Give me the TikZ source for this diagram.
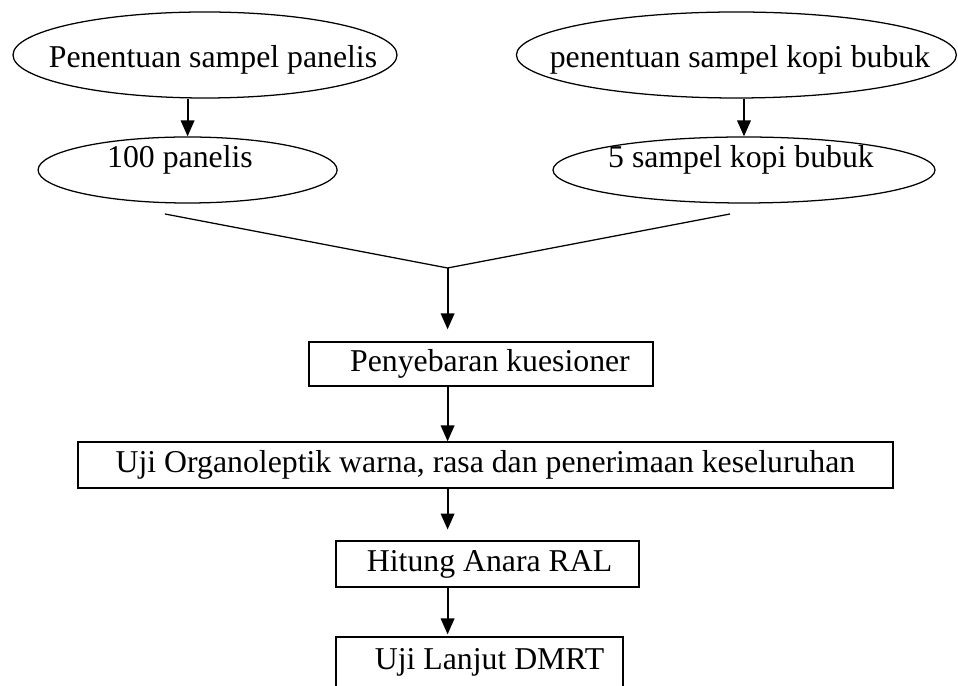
\documentclass[tikz,border=0pt]{standalone}
\usepackage{fontspec}
\setmainfont{Liberation Serif}
\usetikzlibrary{arrows.meta, shapes.geometric}

\begin{document}
\begin{tikzpicture}[
    oval/.style={draw, ellipse, line width=0.9pt, inner sep=0pt},
    box/.style={draw, rectangle, line width=0.9pt, inner sep=0pt, minimum height=1.15cm},
    lbl/.style={inner sep=0pt},
    >={Triangle[length=0.4cm, width=0.34cm]},
    font=\fontsize{22.6}{27}\selectfont
]
  \clip (0,0) rectangle (23.95,17.15);

  % Sampling (left and right)
  \node[oval, minimum width=9.6cm, minimum height=2.15cm] (tentuPanelis) at (5.125, 15.775) {};
  \node[lbl] (tentuPanelisT) at (5.325, 15.65) {Penentuan sampel panelis};
  \node[oval, minimum width=7.475cm, minimum height=1.65cm] (panelis) at (4.69, 12.9) {};
  \node[lbl] (panelisT) at (4.5, 13.15) {100 panelis};

  \node[oval, minimum width=11.0cm, minimum height=2.15cm] (tentuKopi) at (18.41, 15.775) {};
  \node[lbl] (tentuKopiT) at (18.5, 15.65) {penentuan sampel kopi bubuk};
  \node[oval, minimum width=9.55cm, minimum height=1.65cm] (kopi) at (18.6, 12.9) {};
  \node[lbl] (kopiT) at (18.525, 13.15) {5 sampel kopi bubuk};

  \draw[->, line width=1.3pt] (tentuPanelis.south -| panelis.north) -- (panelis.north);
  \draw[->, line width=1.3pt] (tentuKopi.south -| kopi.north) -- (kopi.north);

  % Merging lines
  \coordinate (mL) at (4.125, 11.8);
  \coordinate (join) at (11.19, 10.45);
  \coordinate (mR) at (18.25, 11.8);
  \draw[line width=0.9pt] (mL) -- (join) -- (mR);

  % Process steps
  \node[box, minimum width=8.6cm, minimum height=1.1cm] (sebar) at (12.025, 8.05) {\hspace*{0.45cm}Penyebaran kuesioner};
  \node[box, minimum width=20.375cm] (organo) at (12.1375, 5.525) {Uji Organoleptik warna, rasa dan penerimaan keseluruhan};
  \node[box, minimum width=7.575cm] (anova) at (12.19, 3.05) {\hspace*{0.1cm}Hitung Anara RAL};
  \node[box, minimum width=7.175cm, minimum height=1.25cm] (dmrt) at (11.9875, 0.6) {\hspace*{0.5cm}Uji Lanjut DMRT};

  \draw[->, line width=1.3pt, shorten >=0.3cm] (join) -- (sebar.north -| join);
  \draw[->, line width=1.3pt] (sebar.south -| join) -- (organo.north -| join);
  \draw[->, line width=1.3pt, shorten >=0.27cm] (organo.south -| join) -- (anova.north -| join);
  \draw[->, line width=1.3pt, shorten >=0.05cm] (anova.south -| join) -- (dmrt.north -| join);
\end{tikzpicture}
\end{document}
